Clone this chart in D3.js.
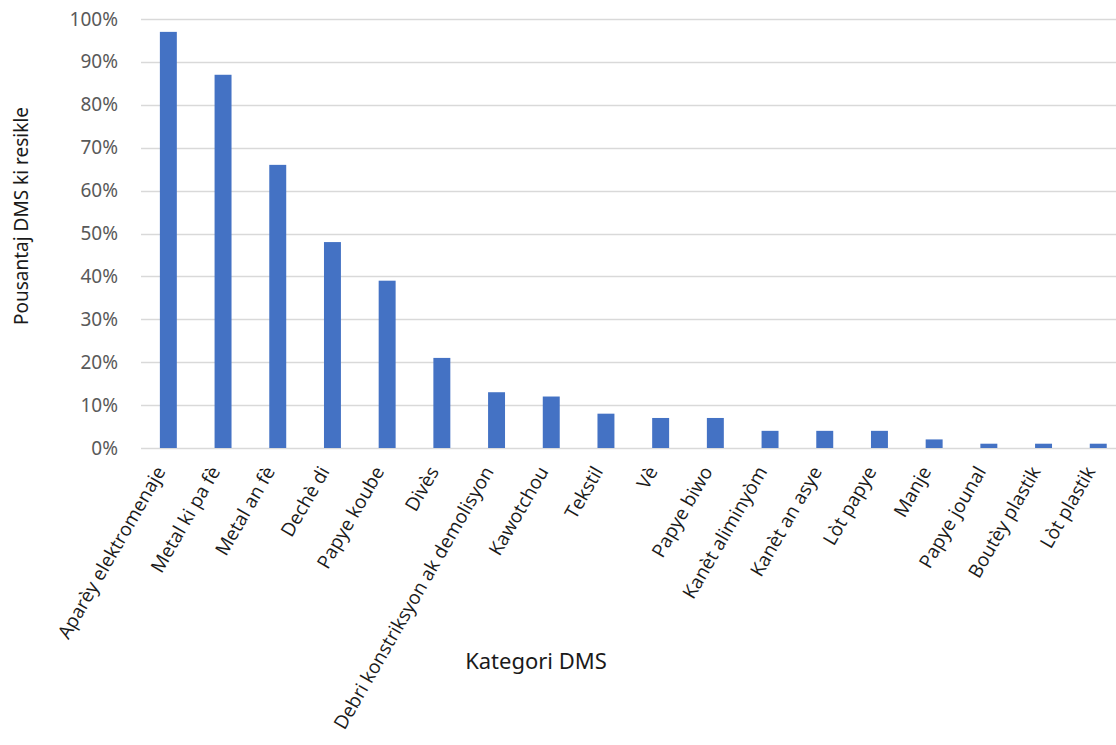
<!DOCTYPE html>
<html>
<head>
<meta charset="utf-8">
<script src="https://cdnjs.cloudflare.com/ajax/libs/d3/7.8.5/d3.min.js"></script>
<style>
  html, body { margin: 0; padding: 0; background: #ffffff; overflow: hidden; }
  svg { display: block; }
</style>
</head>
<body>
<div id="chart"></div>
<script>
// categories and recycled share
var categories = ['Aparèy elektromenaje', 'Metal ki pa fè', 'Metal an fè', 'Dechè di', 'Papye koube',
  'Divès', 'Debri konstriksyon ak demolisyon', 'Kawotchou', 'Tekstil', 'Vè', 'Papye biwo',
  'Kanèt aliminyòm', 'Kanèt an asye', 'Lòt papye', 'Manje', 'Papye jounal', 'Boutèy plastik', 'Lòt plastik'];
var recycled = [0.97, 0.87, 0.66, 0.48, 0.39, 0.21, 0.13, 0.12, 0.08, 0.07, 0.07, 0.04, 0.04, 0.04, 0.02, 0.01, 0.01, 0.01];
var yTicks = [0, 0.1, 0.2, 0.3, 0.4, 0.5, 0.6, 0.7, 0.8, 0.9, 1.0];

var W = 1116, H = 745;
var margin = { top: 19, left: 141, bottom: 297 };
var plotH = H - margin.top - margin.bottom;   // 0% line at y = 448
var step = 54.7;
var plotW = step * categories.length;         // runs a bit past the right edge, like the crop

var svg = d3.select('#chart').append('svg')
  .attr('width', W)
  .attr('height', H)
  .style('background', '#ffffff');

var g = svg.append('g')
  .attr('transform', 'translate(' + margin.left + ',' + margin.top + ')');

var x = d3.scaleBand()
  .domain(categories)
  .range([0, plotW])
  .paddingInner(0.69)
  .paddingOuter(0.345);

var y = d3.scaleLinear()
  .domain([0, 1])
  .range([plotH, 0]);

// gridlines
g.append('g')
  .selectAll('line')
  .data(yTicks)
  .enter().append('line')
  .attr('x1', 0)
  .attr('x2', plotW)
  .attr('y1', function(d) { return Math.round(y(d)) + 0.5; })
  .attr('y2', function(d) { return Math.round(y(d)) + 0.5; })
  .style('stroke', '#d9d9d9')
  .style('stroke-width', 1.5);

// y axis labels
var yAxis = d3.axisLeft(y)
  .tickValues(yTicks)
  .tickSize(0)
  .tickPadding(23)
  .tickFormat(d3.format('.0%'));

var yg = g.append('g').call(yAxis);
yg.select('.domain').remove();
yg.selectAll('text')
  .style('font-family', '"Noto Sans", "Open Sans", sans-serif')
  .style('font-size', '19px')
  .style('fill', '#595959');

// bars
g.append('g')
  .selectAll('rect')
  .data(recycled)
  .enter().append('rect')
  .attr('x', function(d, i) { return x(categories[i]); })
  .attr('width', x.bandwidth())
  .attr('y', function(d) { return y(d); })
  .attr('height', function(d) { return plotH - y(d); })
  .style('fill', '#4472c4');

// x axis labels, rotated
var xAxis = d3.axisBottom(x).tickSize(0).tickPadding(0);
var xg = g.append('g')
  .attr('transform', 'translate(0,' + plotH + ')')
  .call(xAxis);
xg.select('.domain').remove();
xg.selectAll('text')
  .attr('text-anchor', 'end')
  .attr('dy', '0.35em')
  .attr('transform', 'translate(-8,20) rotate(-60)')
  .style('font-family', '"Open Sans", "Noto Sans", sans-serif')
  .style('font-size', '19px')
  .style('fill', '#1a1a1a');

// axis titles
svg.append('text')
  .attr('transform', 'translate(28,' + 216 + ') rotate(-90)')
  .attr('text-anchor', 'middle')
  .style('font-family', '"Noto Sans", "Open Sans", sans-serif')
  .style('font-size', '19px')
  .style('fill', '#1a1a1a')
  .text('Pousantaj DMS ki resikle');

svg.append('text')
  .attr('x', 536)
  .attr('y', 669)
  .attr('text-anchor', 'middle')
  .style('font-family', '"Noto Sans", "Open Sans", sans-serif')
  .style('font-size', '22px')
  .style('fill', '#1a1a1a')
  .text('Kategori DMS');
</script>
</body>
</html>
